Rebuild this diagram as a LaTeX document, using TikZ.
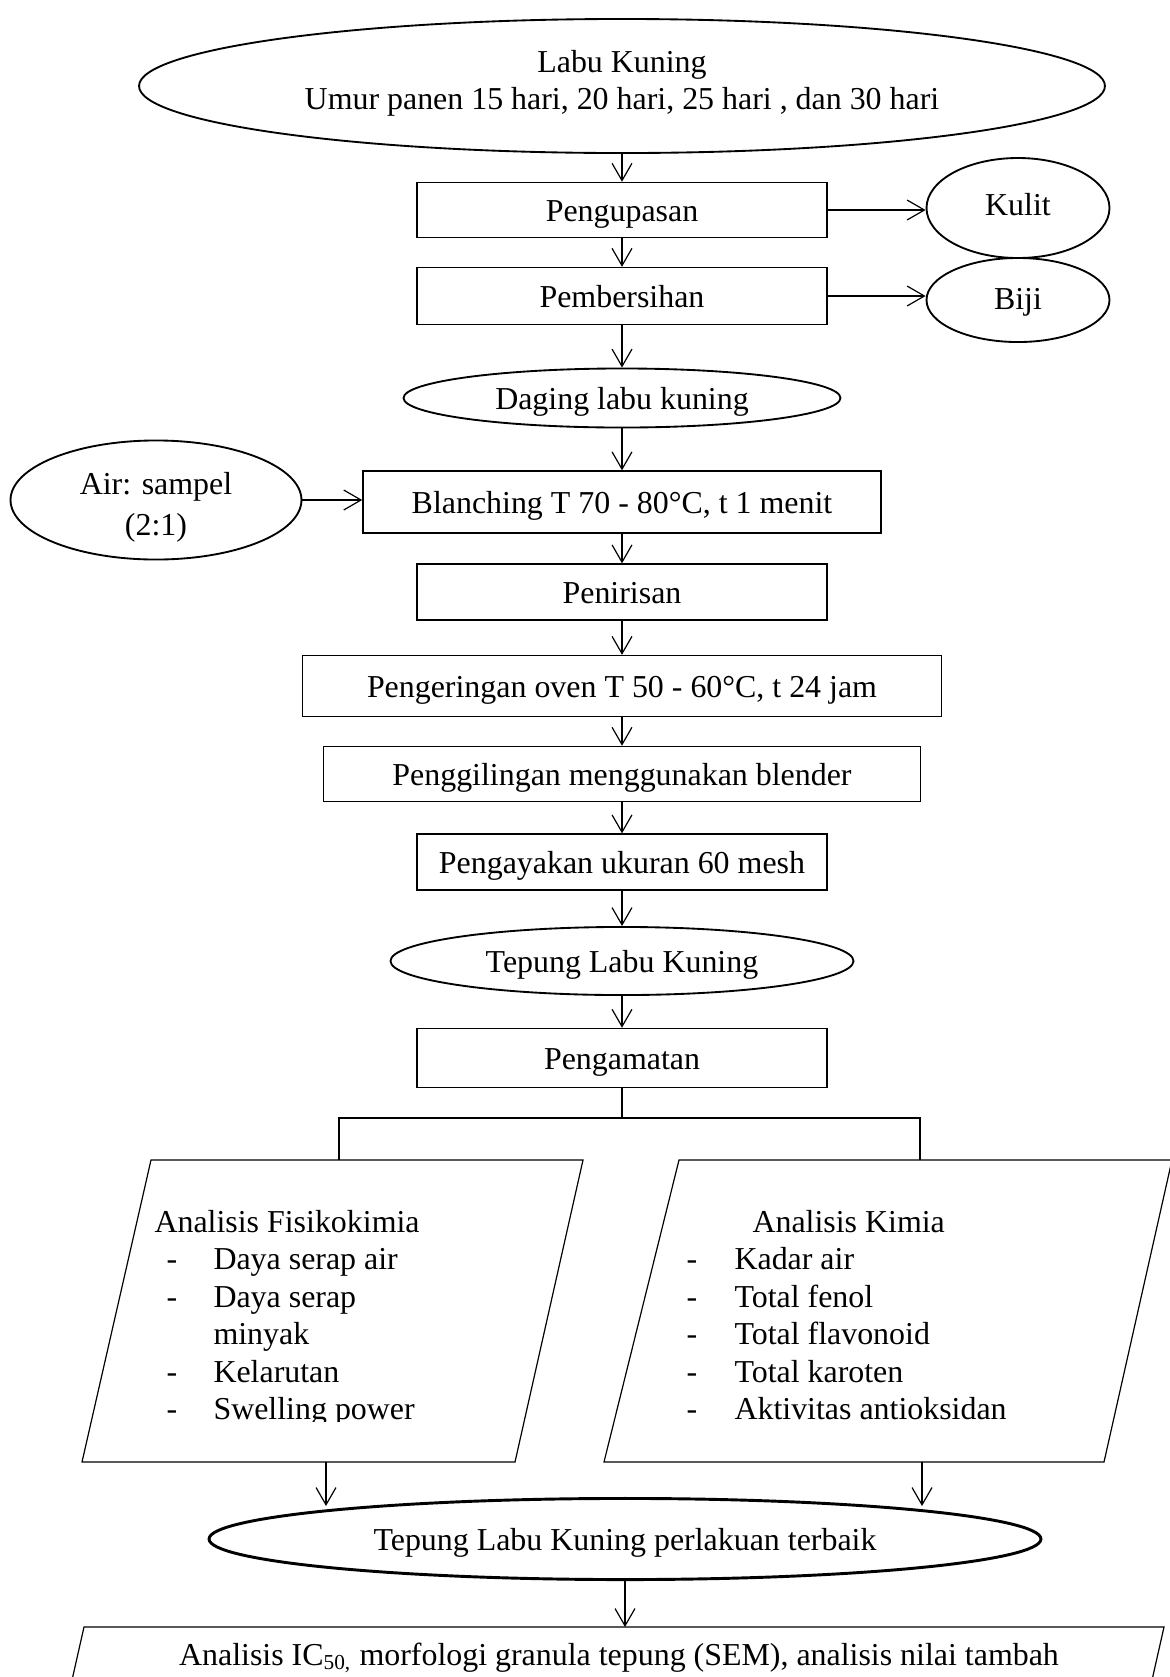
\documentclass[tikz,border=0pt]{standalone}
\usepackage{fontspec}
\setmainfont{Liberation Serif}
\usepackage{tikz}
\usetikzlibrary{positioning,shapes.geometric,arrows.meta}

\tikzset{
  teks/.style={text height=9pt,text depth=0pt},
  proses/.style={draw,line width=0.55pt,rectangle,minimum width=154.2pt,minimum height=21pt,inner sep=0pt,teks},
  bulat/.style={draw,line width=0.7pt,ellipse,inner sep=0pt},
  miring/.style={draw,line width=0.45pt},
  isi/.style={anchor=base west,inner sep=0pt},
  panah/.style={->,line width=0.45pt}
}

\begin{document}
\begin{tikzpicture}[x=0.376pt,y=-0.376pt,>={Straight Barb[length=6.5pt,width=7.5pt]},
  font=\fontsize{12}{14}\selectfont]
\useasboundingbox (0,0) rectangle (1170,1677);

\node[bulat,minimum width=363.2pt,minimum height=50.4pt,align=center] (labu) at (622,86)
  {Labu Kuning\\Umur panen 15 hari, 20 hari, 25 hari , dan 30 hari\rule[-4.6pt]{0pt}{0pt}};
\node[proses,minimum height=20.7pt] (kupas) at (622,210) {Pengupasan};
\node[proses,minimum height=21.4pt] (bersih) at (622,296) {Pembersihan};
\node[bulat,minimum width=68.8pt,minimum height=37.6pt,text height=8.5pt,text depth=3.2pt] (kulit) at (1018,208) {Kulit};
\node[bulat,minimum width=68.8pt,minimum height=31.6pt,text height=8.5pt,text depth=1pt] (biji) at (1018,300) {Biji};
\node[bulat,teks,minimum width=164.3pt,minimum height=22.2pt] (daging) at (622,398) {Daging labu kuning};
\node[bulat,minimum width=109.4pt,minimum height=39.5pt,align=center] (air) at (156,500)
  {\rule{0pt}{13.7pt}Air: sampel\\[1.4pt](2:1)};
\node[proses,minimum width=194.8pt,minimum height=23.3pt] (blanch) at (622,502) {Blanching T 70 - 80°C, t 1 menit};
\node[proses] (tiris) at (622,592) {Penirisan};
\node[proses,minimum width=240.3pt,minimum height=22.9pt] (kering) at (622,686) {Pengeringan oven T 50 - 60°C, t 24 jam};
\node[proses,minimum width=224.5pt,minimum height=20.7pt] (giling) at (622,774) {Penggilingan menggunakan blender};
\node[proses] (ayak) at (622,862) {Pengayakan ukuran 60 mesh};
\node[bulat,teks,minimum width=174.1pt,minimum height=25.6pt] (tepung) at (622,961) {Tepung Labu Kuning};
\node[proses,minimum height=22.2pt] (amat) at (622,1058) {Pengamatan};

% dua kotak analisis
\coordinate (atas) at (0,1160);
\coordinate (bawah) at (0,1462);
\draw[miring] (151,1160) -- (583,1160) -- (515,1462) -- (82,1462) -- cycle;
\draw[miring] (679,1160) -- (1172,1160) -- (1104,1462) -- (604,1462) -- cycle;

\begin{scope}
\clip (0,1100) rectangle (1170,1421);
\node[isi] at (154,1232) {Analisis Fisikokimia};
\foreach \y/\d/\t in {1269/-/Daya serap air, 1307/-/Daya serap, 1344//minyak, 1382/-/Kelarutan, 1419/-/Swelling power}{
  \node[isi] at (166,\y) {\d};
  \node[isi] at (213,\y) {\t};
}
\node[isi] at (752,1232) {Analisis Kimia};
\foreach \y/\t in {1269/Kadar air, 1307/Total fenol, 1344/Total flavonoid, 1382/Total karoten, 1419/Aktivitas antioksidan}{
  \node[isi] at (686,\y) {-};
  \node[isi] at (734,\y) {\t};
}
\end{scope}

\node[bulat,teks,line width=1.1pt,minimum width=312.8pt,minimum height=30.5pt] (terbaik) at (625,1539)
  {Tepung Labu Kuning perlakuan terbaik};

\draw[miring] (84,1627) coordinate (nilaiKiri) -- (1164,1627) -- (1143,1720) -- (63,1720) -- cycle;
\node[anchor=base] (nilai) at (619,1665)
  {Analisis IC\textsubscript{50,} morfologi granula tepung (SEM), analisis nilai tambah};

% alur utama
\draw[panah] (labu) -- (kupas);
\draw[panah] (kupas) -- (bersih);
\draw[panah] (bersih) -- (daging);
\draw[panah] (daging) -- (blanch);
\draw[panah] (blanch) -- (tiris);
\draw[panah] (tiris) -- (kering);
\draw[panah] (kering) -- (giling);
\draw[panah] (giling) -- (ayak);
\draw[panah] (ayak) -- (tepung);
\draw[panah] (tepung) -- (amat);

\draw[panah] (kupas.east) -- (kupas.east -| kulit.west);
\draw[panah] (bersih.east) -- (bersih.east -| biji.west);
\draw[panah] (air.east) -- (air.east -| blanch.west);

\coordinate (kiri) at (339,1118);
\coordinate (kanan) at (920,1118);
\draw[line width=0.45pt] (amat.south) -- (amat.south |- kiri);
\draw[line width=0.45pt] (kiri |- atas) -- (kiri) -- (kanan) -- (kanan |- atas);

\coordinate (ujungKiri) at (326,1506);
\coordinate (ujungKanan) at (922,1506);
\draw[panah] (ujungKiri |- bawah) -- (ujungKiri);
\draw[panah] (ujungKanan |- bawah) -- (ujungKanan);
\draw[panah] (terbaik.south) -- (terbaik.south |- nilaiKiri);
\end{tikzpicture}
\end{document}
